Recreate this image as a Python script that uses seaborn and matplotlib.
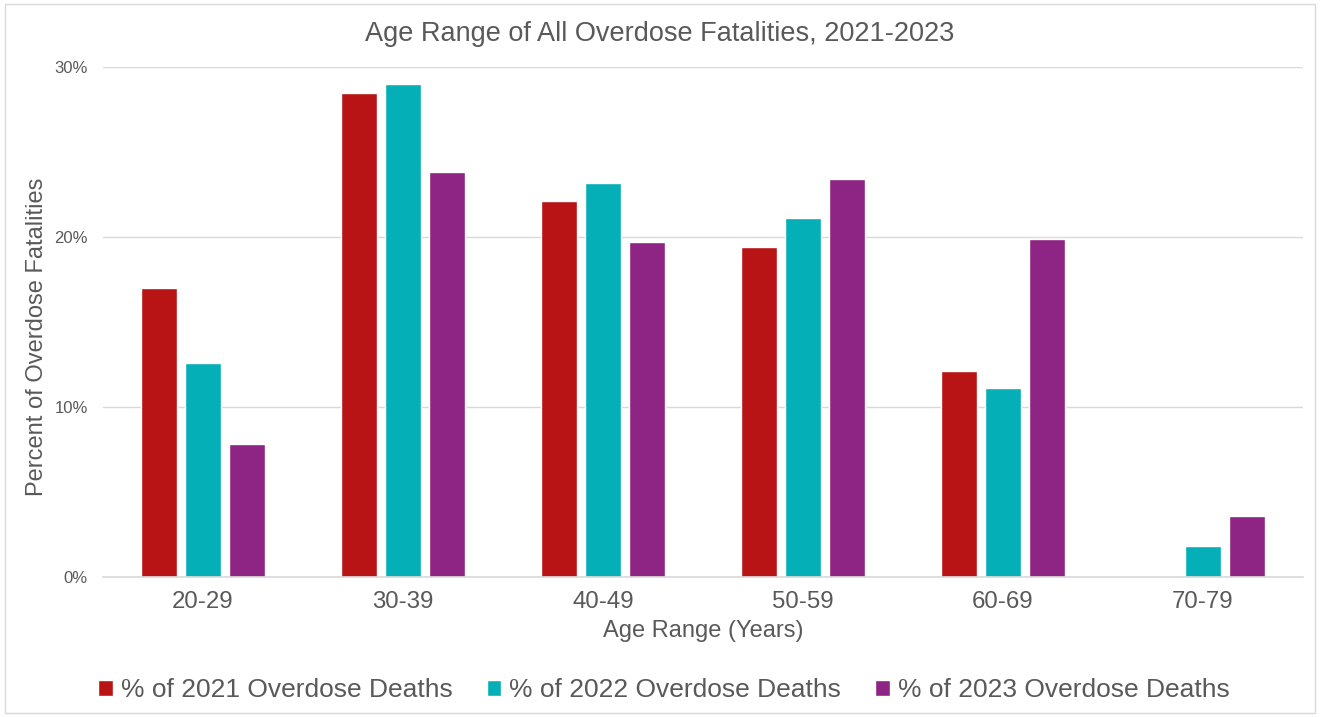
import matplotlib
matplotlib.use("Agg")
import matplotlib.pyplot as plt
from matplotlib.patches import Rectangle
from matplotlib.ticker import FuncFormatter
import seaborn as sns
import pandas as pd

# Share of overdose fatalities by age range (%)
age_ranges = ["20-29", "30-39", "40-49", "50-59", "60-69", "70-79"]
pct_2021 = [17.0, 28.5, 22.1, 19.4, 12.1, 0.0]
pct_2022 = [12.6, 29.0, 23.2, 21.1, 11.1, 1.8]
pct_2023 = [7.8, 23.8, 19.7, 23.4, 19.9, 3.6]
series_names = ["% of 2021 Overdose Deaths", "% of 2022 Overdose Deaths", "% of 2023 Overdose Deaths"]
colors = ["#B81416", "#05AFB7", "#8E2483"]

df = pd.DataFrame({"Age Range": age_ranges,
                   series_names[0]: pct_2021,
                   series_names[1]: pct_2022,
                   series_names[2]: pct_2023})
long = df.melt(id_vars="Age Range", var_name="Series", value_name="Percent")

sns.set_theme(style="white")
plt.rcParams["font.family"] = ["Liberation Sans", "DejaVu Sans"]
text_gray = "#595959"

fig = plt.figure(figsize=(13.2, 7.17), dpi=100)
ax = fig.add_axes([103 / 1320, 1 - 577 / 717, 1200 / 1320, 510 / 717])

sns.barplot(data=long, x="Age Range", y="Percent", hue="Series",
            palette=colors, width=0.66, gap=0.2, ax=ax, legend=True,
            saturation=1, errorbar=None)

ax.set_xlim(-0.5, 5.5)
ax.set_ylim(0, 30)
ax.set_yticks([0, 10, 20, 30])
ax.yaxis.set_major_formatter(FuncFormatter(lambda v, _: f"{v:.0f}%"))
ax.grid(axis="y", color="#D9D9D9", linewidth=1)
ax.set_axisbelow(True)
for s in ["top", "right", "left"]:
    ax.spines[s].set_visible(False)
ax.spines["bottom"].set_color("#D9D9D9")
ax.spines["bottom"].set_linewidth(1.2)
ax.tick_params(axis="y", labelsize=12, colors=text_gray, length=0, pad=11)
ax.tick_params(axis="x", labelsize=17.3, colors=text_gray, length=0, pad=10)

ax.set_xlabel("Age Range (Years)", fontsize=17, color=text_gray, labelpad=5)
ax.set_ylabel("Percent of Overdose Fatalities", fontsize=17, color=text_gray)
ax.yaxis.set_label_coords(-55 / 1200, 0.47)
fig.text(0.5, 1 - 34 / 717, "Age Range of All Overdose Fatalities, 2021-2023",
         ha="center", va="center", fontsize=19.5, color=text_gray)

handles, labels = ax.get_legend_handles_labels()
ax.legend(handles, labels, loc="center", bbox_to_anchor=(0.503, 1 - 690 / 717),
          bbox_transform=fig.transFigure, ncol=3, frameon=False,
          fontsize=19, labelcolor=text_gray, handlelength=0.55, handleheight=0.55,
          handletextpad=0.3, columnspacing=1.3)

# thin frame around the whole chart
fig.patches.append(Rectangle((0.004, 0.006), 0.992, 0.988, transform=fig.transFigure,
                             fill=False, edgecolor="#D9D9D9", linewidth=1))

fig.savefig("out.png", dpi=100, facecolor="white")
